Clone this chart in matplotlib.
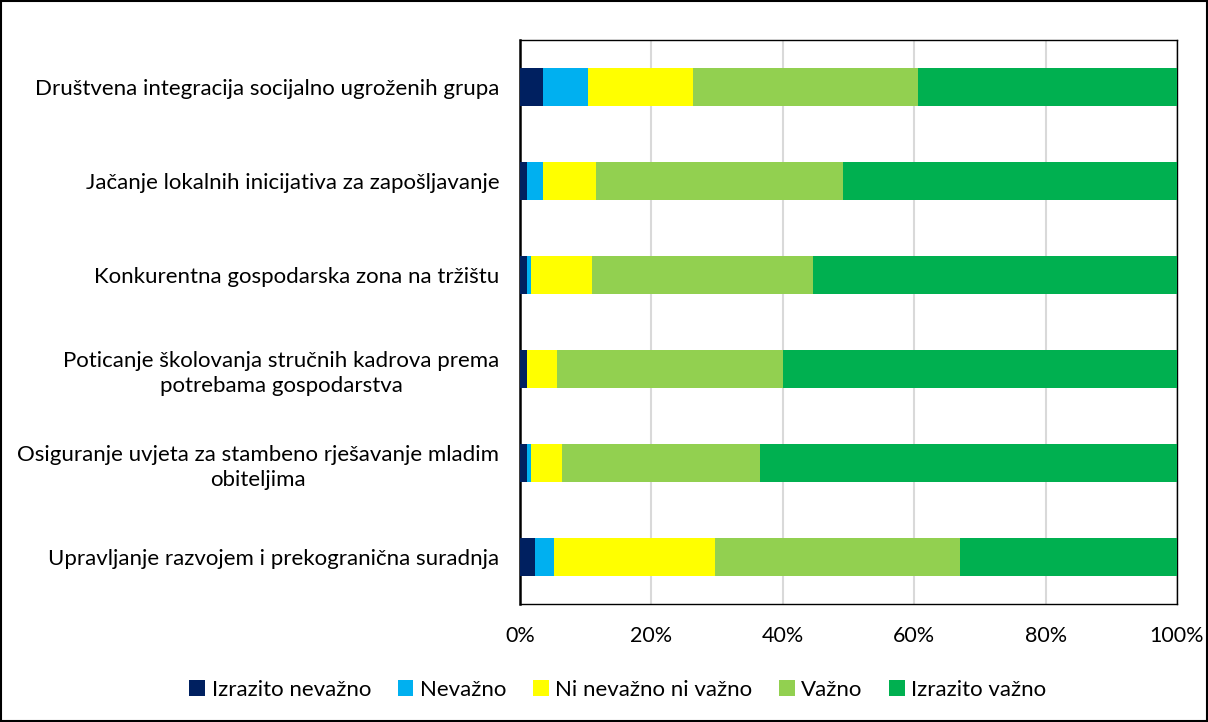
import numpy as np
import matplotlib
matplotlib.use('Agg')
import matplotlib.pyplot as plt
from matplotlib.patches import Rectangle

plt.rcParams['font.family'] = ['Lato', 'DejaVu Sans']

categories = ['Društvena integracija socijalno ugroženih grupa',
              'Jačanje lokalnih inicijativa za zapošljavanje',
              'Konkurentna gospodarska zona na tržištu',
              'Poticanje školovanja stručnih kadrova prema\npotrebama gospodarstva',
              'Osiguranje uvjeta za stambeno rješavanje mladim\nobiteljima',
              'Upravljanje razvojem i prekogranična suradnja']

series_names = ['Izrazito nevažno', 'Nevažno', 'Ni nevažno ni važno', 'Važno', 'Izrazito važno']
colors = ['#002060', '#00B0F0', '#FFFF00', '#92D050', '#00B050']

izrazito_nevazno = [3.5, 1.1, 1.1, 1.1, 1.1, 2.3]
nevazno = [6.8, 2.4, 0.6, 0.0, 0.6, 2.8]
ni_ni = [16.0, 8.0, 9.2, 4.6, 4.7, 24.6]
vazno = [34.3, 37.7, 33.7, 34.3, 30.2, 37.2]
izrazito_vazno = [39.4, 50.8, 55.4, 60.0, 63.4, 33.1]

data = [izrazito_nevazno, nevazno, ni_ni, vazno, izrazito_vazno]

fig = plt.figure(figsize=(12.08, 7.22), dpi=100)
ax = fig.add_axes([520/1208, 1 - 604/722, 657/1208, 564/722])

y = np.arange(len(categories))
left = np.zeros(len(categories))
for vals, name, col in zip(data, series_names, colors):
    vals = np.array(vals)
    ax.barh(y, vals, left=left, height=0.4, color=col, label=name, zorder=3)
    left += vals

ax.set_xlim(0, 100)
ax.set_ylim(len(categories) - 0.5, -0.5)
ax.set_yticks(y)
ax.set_yticklabels(categories, fontsize=16, linespacing=1.3)
for lbl in ax.get_yticklabels():
    lbl.set_multialignment('center')
ax.set_xticks(np.arange(0, 101, 20))
ax.set_xticklabels([f'{v}%' for v in range(0, 101, 20)], fontsize=15.5)
ax.tick_params(axis='both', length=0)
ax.tick_params(axis='y', pad=15)
ax.tick_params(axis='x', pad=16)
ax.grid(axis='x', color='#d9d9d9', linewidth=1.5, zorder=0)
for s in ax.spines.values():
    s.set_color('black')
    s.set_linewidth(1)
ax.spines['left'].set_linewidth(1.8)

fig.legend(loc='center', bbox_to_anchor=(618/1208, 1 - 690/722), ncol=5, frameon=False,
           fontsize=16, handlelength=0.7, handleheight=0.7, handletextpad=0.3, columnspacing=1.2)

fig.patches.append(Rectangle((0.001, 0.001), 0.998, 0.998, transform=fig.transFigure,
                             fill=False, edgecolor='black', linewidth=1.5))

fig.savefig('out.png', dpi=100)
